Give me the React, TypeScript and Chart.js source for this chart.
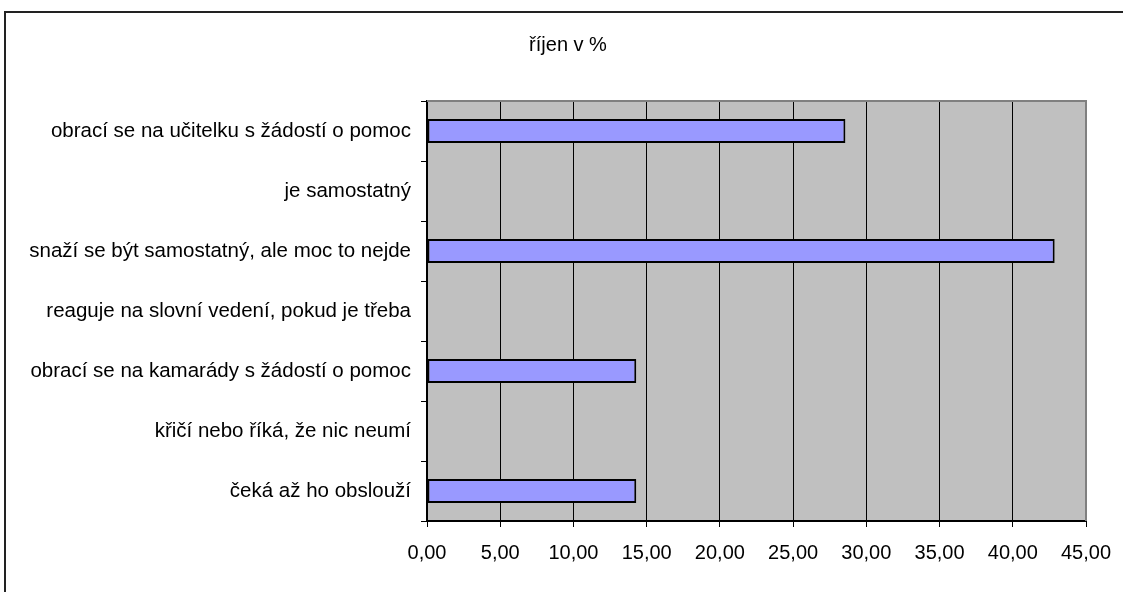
import React, { useEffect, useRef } from "react";
import { Chart, registerables } from "chart.js";

Chart.register(...registerables);

const titleText = "říjen v %";
const categories = [
  "obrací se na učitelku s žádostí o pomoc",
  "je samostatný",
  "snaží se být samostatný, ale moc to nejde",
  "reaguje na slovní vedení, pokud je třeba",
  "obrací se na kamarády s žádostí o pomoc",
  "křičí nebo říká, že nic neumí",
  "čeká až ho obslouží",
];
const values = [28.57, 0, 42.86, 0, 14.29, 0, 14.29];
const xMin = 0;
const xMax = 45;
const xStep = 5;

const FONT = '"Liberation Sans", Arial, sans-serif';

export default function App() {
  const ref = useRef<HTMLCanvasElement>(null);

  useEffect(() => {
    if (!ref.current) return;
    const plotBg = {
      id: "plotBg",
      beforeDraw(chart: any) {
        const { ctx, chartArea: a } = chart;
        ctx.save();
        ctx.fillStyle = "#C0C0C0";
        ctx.fillRect(a.left, a.top, a.right - a.left, a.bottom - a.top);
        ctx.restore();
      },
      beforeDatasetsDraw(chart: any) {
        const { ctx, chartArea: a } = chart;
        ctx.save();
        ctx.strokeStyle = "#808080";
        ctx.lineWidth = 2;
        ctx.beginPath();
        ctx.moveTo(a.left, a.top);
        ctx.lineTo(a.right, a.top);
        ctx.lineTo(a.right, a.bottom);
        ctx.stroke();
        ctx.restore();
      },
    };

    const chart = new Chart(ref.current, {
      type: "bar",
      data: {
        labels: categories,
        datasets: [
          {
            data: values,
            backgroundColor: "#9999FF",
            borderColor: "#000000",
            borderWidth: 2,
            borderSkipped: false,
            barPercentage: 0.4,
            categoryPercentage: 1,
            xAxisID: "x",
            yAxisID: "y",
          },
        ],
      },
      options: {
        indexAxis: "y",
        responsive: false,
        animation: false,
        events: [],
        layout: { padding: { left: 20, right: 26, top: 0, bottom: 13 } },
        plugins: {
          legend: { display: false },
          tooltip: { enabled: false },
          title: {
            display: true,
            text: titleText,
            color: "#000",
            font: { family: FONT, size: 20, weight: "normal" },
            padding: { top: 33, bottom: 44 },
          },
        },
        scales: {
          x: {
            type: "linear",
            min: xMin,
            max: xMax,
            ticks: {
              stepSize: xStep,
              color: "#000",
              font: { family: FONT, size: 20 },
              padding: 14,
              maxRotation: 0,
              callback: (v: any) => Number(v).toFixed(2).replace(".", ","),
            },
            grid: { color: "#000", lineWidth: 1, tickLength: 6, drawTicks: true },
            border: { color: "#000", width: 2 },
          },
          y: {
            type: "category",
            ticks: { color: "#000", font: { family: FONT, size: 20.5 }, padding: 10 },
            grid: { drawOnChartArea: false, tickLength: 6, color: "#000", offset: true },
            border: { color: "#000", width: 2 },
            afterFit(scale: any) {
              scale.width = 407;
            },
          },
          yRightSpace: {
            type: "linear",
            position: "right",
            ticks: { display: false },
            grid: { display: false },
            border: { display: false },
            afterFit(scale: any) {
              scale.width = 30;
            },
          },
        },
      },
      plugins: [plotBg],
    } as any);
    return () => chart.destroy();
  }, []);

  return (
    <div
      style={{
        position: "fixed",
        left: 0,
        top: 0,
        width: 1123,
        height: 592,
        overflow: "hidden",
        background: "#fff",
      }}
    >
      <div
        style={{
          position: "absolute",
          left: 4,
          top: 11,
          width: 2000,
          height: 2000,
          borderLeft: "2px solid #222",
          borderTop: "2px solid #222",
        }}
      />
      <canvas
        ref={ref}
        width={1142}
        height={592}
        style={{ position: "absolute", left: 0, top: 0 }}
      />
    </div>
  );
}
